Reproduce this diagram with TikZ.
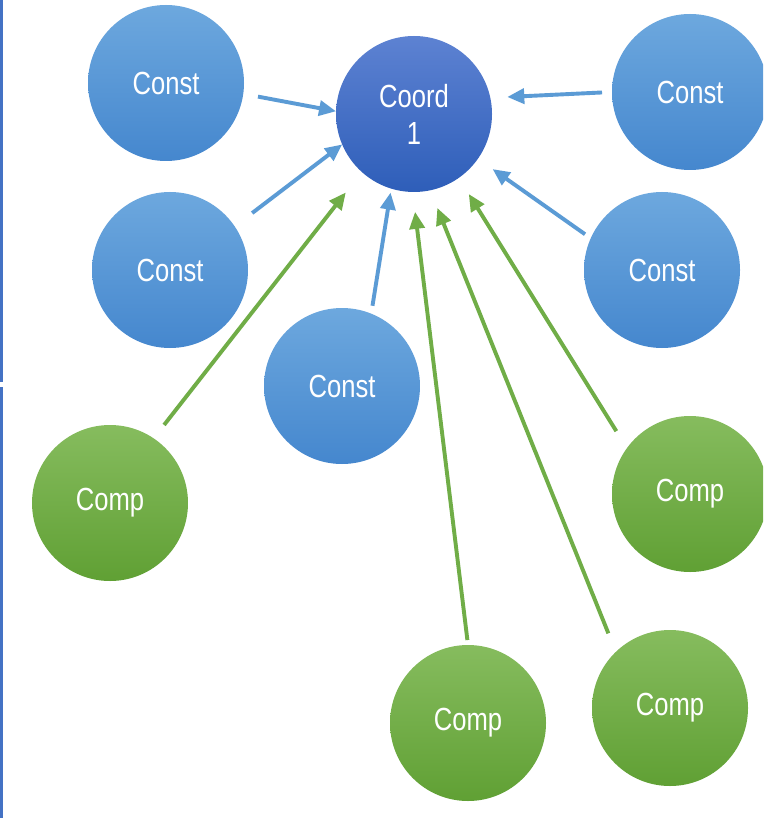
\documentclass[tikz,border=0pt]{standalone}
\usepackage{fontspec}
\setmainfont{Liberation Sans}[FakeStretch=0.8]
\usetikzlibrary{arrows.meta}
\definecolor{constTop}{HTML}{6DA8DE}
\definecolor{constBot}{HTML}{4587CE}
\definecolor{coordTop}{HTML}{5D82D2}
\definecolor{coordBot}{HTML}{2E5EB9}
\definecolor{compTop}{HTML}{86BC5E}
\definecolor{compBot}{HTML}{60A034}
\definecolor{arrBlue}{HTML}{5B9BD5}
\definecolor{arrGreen}{HTML}{70AD47}
\definecolor{frameBlue}{HTML}{4472C4}
\tikzset{
  ball/.style={circle, minimum size=156pt, inner sep=0pt, outer sep=0pt,
    text=white, font=\fontsize{32}{37}\selectfont, align=center},
  constball/.style={ball, top color=constTop, bottom color=constBot},
  coordball/.style={ball, top color=coordTop, bottom color=coordBot},
  compball/.style={ball, top color=compTop, bottom color=compBot},
  link/.style={line width=3.9pt, -{Triangle[length=17pt,width=15pt]}},
  bluelink/.style={link, arrBlue},
  greenlink/.style={link, arrGreen},
}
\begin{document}
\begin{tikzpicture}[x=1pt,y=-1pt]
\useasboundingbox (0,0) rectangle (763,818);
\clip (0,0) rectangle (763,818);
\fill[white] (0,0) rectangle (763,818);
\draw[frameBlue, line width=2.6pt] (1.3,0) -- (1.3,382);
\draw[frameBlue, line width=2.6pt] (1.3,387) -- (1.3,818);

\node[coordball] (coord) at (414,114) {Coord\\1};
\node[constball] (c1) at (166,83) {Const};
\node[constball] (c2) at (690,92) {Const};
\node[constball] (c3) at (170,270) {Const};
\node[constball] (c4) at (662,270) {Const};
\node[constball] (c5) at (342,386) {Const};
\node[compball] (p1) at (110,503) {Comp};
\node[compball] (p2) at (690,494) {Comp};
\node[compball] (p3) at (468,723) {Comp};
\node[compball] (p4) at (670,708) {Comp};

\draw[bluelink, shorten <=15pt] (c1.-8) -- (coord.178.5);
\draw[bluelink, shorten <=22pt] (c3.34.8) -- (coord.203.3);
\draw[bluelink, shorten <=8pt, shorten >=4pt] (c5.68.2) -- (coord.253.1);
\draw[bluelink, shorten <=10pt, shorten >=17pt] (c2.180) -- (coord.12.7);
\draw[bluelink, shorten <=7pt, shorten >=18pt] (c4.156.4) -- (coord.-35.7);

\draw[greenlink, shorten <=17pt, shorten >=26pt] (p1.56.1) -- (coord.228.5);
\draw[greenlink, shorten <=5pt, shorten >=20pt] (p3.90) -- (coord.269.4);
\draw[greenlink, shorten <=20pt, shorten >=19pt] (p4.134.2) -- (coord.282.5);
\draw[greenlink, shorten <=20pt, shorten >=19pt] (p2.144.5) -- (coord.305.3);
\end{tikzpicture}
\end{document}
